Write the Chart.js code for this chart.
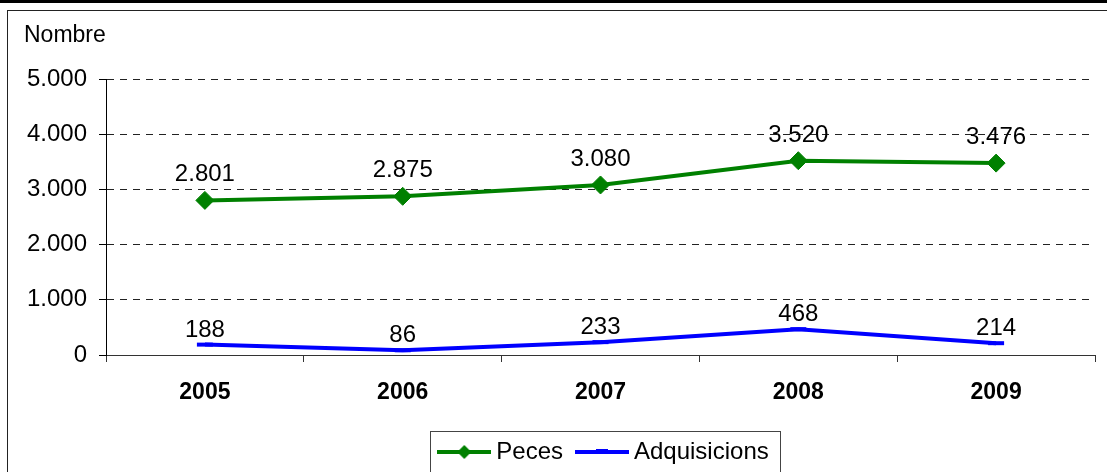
<!DOCTYPE html>
<html>
<head>
<meta charset="utf-8">
<script src="https://cdn.jsdelivr.net/npm/chart.js@4/dist/chart.umd.min.js"></script>
<style>
    html, body { margin: 0; padding: 0; background: #fff; overflow: hidden; }
    #wrap { position: relative; width: 1107px; height: 472px; overflow: hidden; }
    #topBar { position: absolute; left: 0; top: 0; width: 1107px; height: 3px; background: #000; }
    #frame { position: absolute; left: 7px; top: 10px; width: 1120px; height: 520px; border: 1px solid #222; }
    #chart { position: absolute; left: 0; top: 0; }
</style>
</head>
<body>
<div id="wrap">
    <div id="topBar"></div>
    <div id="frame"></div>
    <canvas id="chart" width="1107" height="474"></canvas>
</div>
<script>
const years = ['2005', '2006', '2007', '2008', '2009'];
const peces = [2801, 2875, 3080, 3520, 3476];
const adquisicions = [188, 86, 233, 468, 214];
const seriesNames = ['Peces', 'Adquisicions'];
const yTicks = [0, 1000, 2000, 3000, 4000, 5000];

const GREEN = '#008000';
const BLUE = '#0000FF';
const FONT = '"Liberation Sans", Arial, sans-serif';

Chart.defaults.font.family = FONT;
Chart.defaults.font.size = 24;
Chart.defaults.color = '#000';

// format 2801 -> "2.801"
function fmt(v) {
    return String(v).replace(/\B(?=(\d{3})+(?!\d))/g, '.');
}

// small icons used as legend symbols (line + marker, Excel style)
function makeIcon(color, diamond) {
    const c = document.createElement('canvas');
    c.width = 54;
    c.height = 18;
    const g = c.getContext('2d');
    g.strokeStyle = color;
    g.lineWidth = 4;
    g.beginPath();
    g.moveTo(0, 9);
    g.lineTo(54, 9);
    g.stroke();
    if (diamond) {
        g.fillStyle = color;
        g.beginPath();
        g.moveTo(20, 9);
        g.lineTo(27, 2);
        g.lineTo(34, 9);
        g.lineTo(27, 16);
        g.closePath();
        g.fill();
    } else {
        g.lineWidth = 5;
        g.beginPath();
        g.moveTo(21, 8.5);
        g.lineTo(33, 8.5);
        g.stroke();
    }
    return c;
}
const legendIcons = [makeIcon(GREEN, true), makeIcon(BLUE, false)];

// value labels above each point
const labelOffsets = [19, 8];
const valueLabels = {
    id: 'valueLabels',
    afterDatasetsDraw(chart) {
        const ctx = chart.ctx;
        ctx.save();
        ctx.font = '24px ' + FONT;
        ctx.fillStyle = '#000';
        ctx.textAlign = 'center';
        ctx.textBaseline = 'alphabetic';
        chart.data.datasets.forEach((ds, i) => {
            chart.getDatasetMeta(i).data.forEach((pt, j) => {
                ctx.fillText(fmt(ds.data[j]), pt.x, pt.y - labelOffsets[i]);
            });
        });
        ctx.restore();
    }
};

// nudge the legend a bit to the right and put a border round it
const LEGEND_SHIFT = 6;
const legendBorder = {
    id: 'legendBorder',
    afterUpdate(chart) {
        const lg = chart.legend;
        lg.left += LEGEND_SHIFT;
        lg.right += LEGEND_SHIFT;
        lg.legendHitBoxes.forEach(h => { h.left += LEGEND_SHIFT; });
    },
    afterDraw(chart) {
        const boxes = chart.legend.legendHitBoxes;
        if (!boxes || !boxes.length) return;
        const first = boxes[0];
        const last = boxes[boxes.length - 1];
        const ctx = chart.ctx;
        ctx.save();
        ctx.strokeStyle = '#444';
        ctx.lineWidth = 1;
        const l = Math.round(first.left - 14) + 0.5;
        const r = Math.round(last.left + last.width + 11) + 0.5;
        const t = Math.round(first.top - 9) + 0.5;
        ctx.strokeRect(l, t, r - l, 60);
        ctx.restore();
    }
};

new Chart(document.getElementById('chart'), {
    type: 'line',
    data: {
        labels: years,
        datasets: [{
            label: seriesNames[0],
            data: peces,
            borderColor: GREEN,
            backgroundColor: GREEN,
            borderWidth: 4,
            pointStyle: 'rectRot',
            pointRadius: 9,
            pointHoverRadius: 9,
            pointBorderWidth: 1,
            pointBackgroundColor: GREEN,
            pointBorderColor: GREEN,
            tension: 0
        }, {
            label: seriesNames[1],
            data: adquisicions,
            borderColor: BLUE,
            backgroundColor: BLUE,
            borderWidth: 4,
            pointStyle: 'line',
            pointRadius: 8,
            pointBorderWidth: 4,
            pointBorderColor: BLUE,
            tension: 0
        }]
    },
    options: {
        responsive: false,
        animation: false,
        layout: {
            padding: { left: 24, right: 3, top: 0, bottom: 0 }
        },
        plugins: {
            title: {
                display: true,
                text: 'Nombre',
                align: 'start',
                color: '#000',
                font: { size: 23, weight: 'normal' },
                padding: { top: 21.7, bottom: 29.7 }
            },
            legend: {
                position: 'bottom',
                fullSize: false,
                labels: {
                    usePointStyle: true,
                    pointStyleWidth: 40,
                    padding: 19,
                    color: '#000',
                    font: { size: 24 },
                    generateLabels(chart) {
                        const items = Chart.defaults.plugins.legend.labels.generateLabels(chart);
                        items.forEach((it, i) => { it.pointStyle = legendIcons[i]; });
                        return items;
                    }
                }
            },
            tooltip: { enabled: false }
        },
        scales: {
            x: {
                offset: true,
                afterFit: s => { s.height = 66; },
                grid: {
                    offset: true,
                    drawOnChartArea: false,
                    drawTicks: true,
                    tickLength: 7,
                    color: '#333'
                },
                border: { display: true, color: '#333', width: 1 },
                ticks: {
                    padding: 17,
                    font: { size: 23, weight: 'bold' },
                    color: '#000'
                }
            },
            y: {
                min: 0,
                max: 5000,
                afterFit: s => { s.width = 82; },
                afterBuildTicks: s => { s.ticks = yTicks.map(v => ({ value: v })); },
                grid: {
                    color: '#222',
                    lineWidth: 1,
                    tickLength: 7,
                    tickColor: '#000',
                    tickBorderDash: []
                },
                border: { display: true, color: '#000', width: 1, dash: [7, 6] },
                ticks: {
                    padding: 12,
                    font: { size: 24 },
                    color: '#000',
                    callback: v => fmt(v)
                }
            }
        }
    },
    plugins: [valueLabels, legendBorder]
});
</script>
</body>
</html>
